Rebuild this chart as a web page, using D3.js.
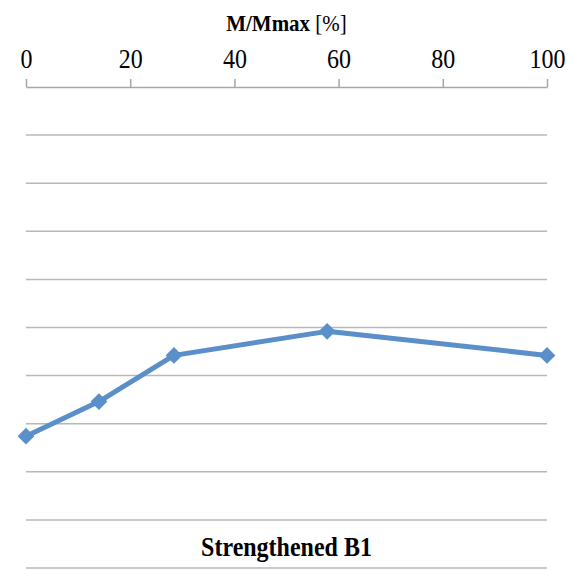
<!DOCTYPE html>
<html>
<head>
<meta charset="utf-8">
<script src="https://cdn.jsdelivr.net/npm/d3@7"></script>
<style>
  html, body { margin: 0; padding: 0; background: #fff; }
  svg { display: block; }
</style>
</head>
<body>
<svg id="chart" width="577" height="570"></svg>
<script>
// Moment ratio along the top axis, position along the hidden vertical axis
const mRatio = [0, 14.0, 28.4, 57.8, 100];
const depth = [7.26, 6.54, 5.58, 5.08, 5.58];
const xTicks = [0, 20, 40, 60, 80, 100];
const gridLevels = [0, 1, 2, 3, 4, 5, 6, 7, 8, 9, 10];
const xTitle = "M/Mmax";
const xUnit = " [%]";
const chartTitle = "Strengthened B1";

const svg = d3.select("#chart");
const margin = { left: 26, right: 30, top: 87, bottom: 2 };
const W = 577, H = 570;
const stretch = 1.12; // text is set slightly tall and narrow

const x = d3.scaleLinear().domain([0, 100]).range([margin.left, W - margin.right]);
const y = d3.scaleLinear().domain([0, 10]).range([margin.top, H - margin.bottom]);

const serif = "'Liberation Serif', 'Times New Roman', serif";

// horizontal gridlines
svg.append("g")
  .selectAll("line")
  .data(gridLevels.slice(1))
  .join("line")
  .attr("x1", x(0)).attr("x2", x(100))
  .attr("y1", d => y(d)).attr("y2", d => y(d))
  .attr("stroke", "#b8b8b8")
  .attr("stroke-width", 1.5);

// top axis
const axis = svg.append("g")
  .attr("transform", `translate(0,${y(0)})`)
  .call(d3.axisTop(x).tickValues(xTicks).tickSize(8).tickSizeOuter(0));
axis.select(".domain").attr("stroke", "#a6a6a6").attr("stroke-width", 1.5);
axis.selectAll(".tick line").attr("stroke", "#a6a6a6").attr("stroke-width", 1.5);
axis.selectAll(".tick text")
  .attr("fill", "#000")
  .attr("dy", 0)
  .attr("y", -19 / stretch)
  .attr("transform", `scale(1,${stretch})`)
  .style("font-family", serif)
  .style("font-size", "24px");

// axis title
const cx = (x(0) + x(100)) / 2;
const t = svg.append("text")
  .attr("transform", `translate(${cx},31) scale(1,${stretch})`)
  .attr("text-anchor", "middle")
  .style("font-family", serif)
  .style("font-size", "21px")
  .attr("fill", "#000");
t.append("tspan").style("font-weight", "bold").text(xTitle);
t.append("tspan").text(xUnit);

// chart title
svg.append("text")
  .attr("transform", `translate(${cx},556) scale(1,${stretch})`)
  .attr("text-anchor", "middle")
  .style("font-family", serif)
  .style("font-size", "24px")
  .style("font-weight", "bold")
  .attr("fill", "#000")
  .text(chartTitle);

// data series
const pts = mRatio.map((m, i) => [m, depth[i]]);
const blue = "#5b8fc9";

svg.append("path")
  .datum(pts)
  .attr("fill", "none")
  .attr("stroke", blue)
  .attr("stroke-width", 5)
  .attr("stroke-linejoin", "round")
  .attr("d", d3.line().x(d => x(d[0])).y(d => y(d[1])));

svg.append("g")
  .selectAll("path")
  .data(pts)
  .join("path")
  .attr("transform", d => `translate(${x(d[0])},${y(d[1])})`)
  .attr("d", d3.symbol(d3.symbolDiamond2, 180))
  .attr("fill", blue);
</script>
</body>
</html>
